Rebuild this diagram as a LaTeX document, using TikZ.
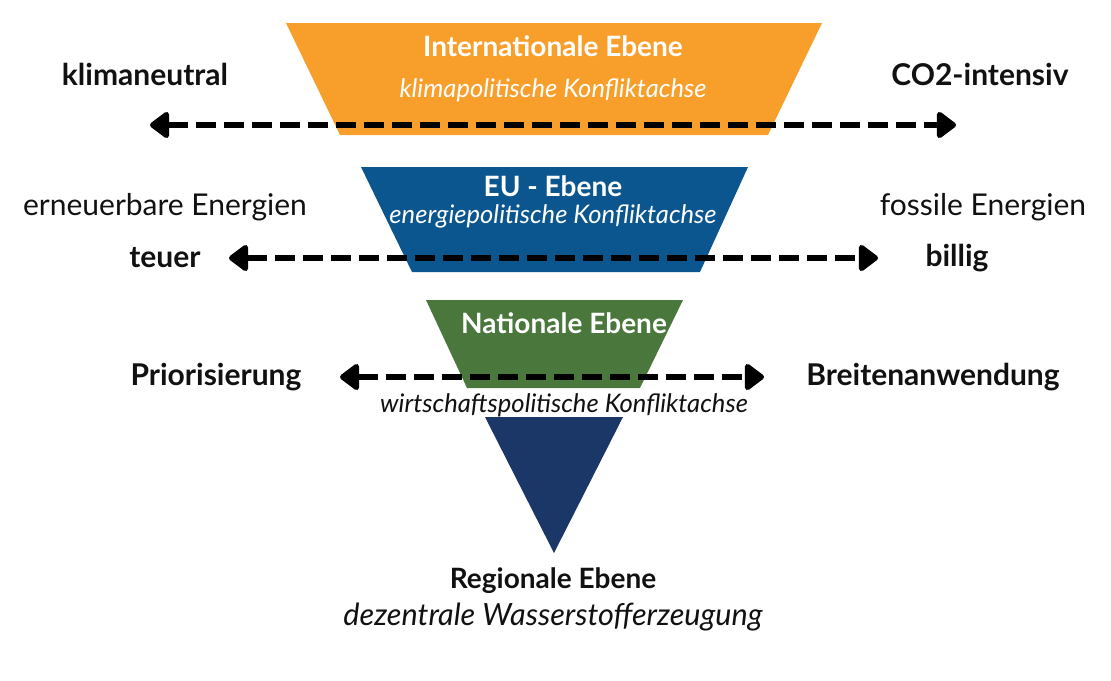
\documentclass[tikz,border=0pt]{standalone}
\usepackage{fontspec}
\setmainfont{Lato}
\usetikzlibrary{arrows.meta}
\definecolor{intlorange}{HTML}{F89F2B}
\definecolor{eublue}{HTML}{0B568F}
\definecolor{natgreen}{HTML}{4A773C}
\definecolor{regnavy}{HTML}{1B3768}
\definecolor{txtdark}{HTML}{111111}
\begin{document}
\begin{tikzpicture}[x=1pt,y=-1pt,
  lvltitle/.style={font=\bfseries\fontsize{28}{32}\selectfont, text=white, inner sep=0pt},
  lvlsub/.style={font=\itshape\fontsize{25.6}{30}\selectfont, text=white, inner sep=0pt},
  sidebold/.style={font=\bfseries\fontsize{30}{34}\selectfont, text=txtdark, inner sep=0pt},
  sidereg/.style={font=\fontsize{30}{34}\selectfont, text=txtdark, inner sep=0pt},
  axisline/.style={line width=6.5pt, dash pattern=on 20pt off 8pt, draw=black,
    {Triangle[length=21pt,width=30pt,round]}-{Triangle[length=21pt,width=30pt,round]}}
]
\useasboundingbox (0,0) rectangle (1111,680);
% levels
\fill[intlorange] (286,23) -- (822,23) -- (768,135) -- (340,135) -- cycle;
\fill[eublue] (361,167) -- (748,167) -- (700,272) -- (412,272) -- cycle;
\fill[natgreen] (426,300) -- (683,300) -- (640,388) -- (467,388) -- cycle;
\fill[regnavy] (485,417) -- (623,417) -- (554,553) -- cycle;
% axis endpoints
\coordinate (a1l) at (150,125); \coordinate (a1r) at (956,125);
\coordinate (a2l) at (229,258); \coordinate (a2r) at (878,258);
\coordinate (a3l) at (340,377); \coordinate (a3r) at (764,377);
\draw[axisline] (a1l) -- (a1r);
\draw[axisline] (a2l) -- (a2r);
\draw[axisline] (a3l) -- (a3r);
% level texts
\node[lvltitle] (intl) at (553,46) {Internationale Ebene};
\node[lvlsub] (intlsub) at (553,90) {klimapolitische Konfliktachse};
\node[lvltitle] (eu) at (553,186) {EU - Ebene};
\node[lvlsub] (eusub) at (553,216) {energiepolitische Konfliktachse};
\node[lvltitle] (nat) at (564,323) {Nationale Ebene};
\node[lvlsub, text=txtdark] (natsub) at (564,405) {wirtschaftspolitische Konfliktachse};
\node[lvltitle, text=txtdark] (reg) at (553,581) {Regionale Ebene};
\node[sidereg, font=\itshape\fontsize{30.6}{34}\selectfont] (regsub) at (553,617) {dezentrale Wasserstofferzeugung};
% side labels
\node[sidebold] (klima) at (145,74) {klimaneutral};
\node[sidebold] (co2) at (980,74) {CO2-intensiv};
\node[sidereg] (erneu) at (165,207) {erneuerbare Energien};
\node[sidereg] (fossil) at (983,207) {fossile Energien};
\node[sidebold] (teuer) at (165,258) {teuer};
\node[sidebold] (billig) at (957,258) {billig};
\node[sidebold] (prio) at (216,377) {Priorisierung};
\node[sidebold] (breite) at (933,377) {Breitenanwendung};
\end{tikzpicture}
\end{document}
